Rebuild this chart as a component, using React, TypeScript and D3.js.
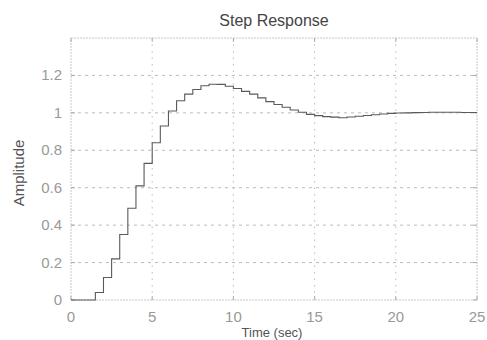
import React from "react";
import * as d3 from "d3";

const times: number[] = [
  0, 0.5, 1, 1.5, 2, 2.5, 3, 3.5, 4, 4.5, 5, 5.5, 6, 6.5, 7, 7.5, 8, 8.5, 9, 9.5,
  10, 10.5, 11, 11.5, 12, 12.5, 13, 13.5, 14, 14.5, 15, 15.5, 16, 16.5, 17, 17.5,
  18, 18.5, 19, 19.5, 20, 20.5, 21, 21.5, 22, 22.5, 23, 23.5, 24, 24.5, 25,
];
const amplitude: number[] = [
  0, 0, 0, 0.04, 0.12, 0.22, 0.35, 0.49, 0.61, 0.73, 0.84, 0.93, 1.01, 1.065, 1.1, 1.125,
  1.145, 1.153, 1.152, 1.142, 1.13, 1.115, 1.1, 1.08, 1.06, 1.045, 1.03, 1.015, 1.003,
  0.992, 0.985, 0.98, 0.977, 0.974, 0.978, 0.982, 0.986, 0.99, 0.994, 0.997, 0.999, 1.0,
  1.001, 1.002, 1.003, 1.003, 1.003, 1.003, 1.002, 1.002, 1.002,
];
const xTicks: number[] = [0, 5, 10, 15, 20, 25];
const yTicks: number[] = [0, 0.2, 0.4, 0.6, 0.8, 1, 1.2];
const title = "Step Response";
const xLabel = "Time (sec)";
const yLabel = "Amplitude";

export default function App() {
  const W = 487;
  const H = 340;
  const left = 71;
  const right = 477;
  const top = 38;
  const bottom = 300;
  const x = d3.scaleLinear().domain([0, 25]).range([left, right]);
  const y = d3.scaleLinear().domain([0, 1.4]).range([bottom, top]);
  const pts: [number, number][] = times.map((t, i) => [t, amplitude[i]]);
  const line = d3
    .line<[number, number]>()
    .x((d) => x(d[0]))
    .y((d) => y(d[1]))
    .curve(d3.curveStepAfter);
  const font = "'Liberation Sans', Arial, Helvetica, sans-serif";
  const fmt = (v: number) => (v === 0 || v === 1 ? String(v) : v.toFixed(1));
  return (
    <svg
      width={W}
      height={H}
      style={{ position: "absolute", left: 0, top: 0, background: "#fff" }}
      fontFamily={font}
    >
      <rect x={0} y={0} width={W} height={H} fill="#fff" />
      {/* grid */}
      {xTicks.slice(1, -1).map((t) => (
        <line
          key={"gx" + t}
          x1={x(t)}
          x2={x(t)}
          y1={top}
          y2={bottom}
          stroke="#bbb"
          strokeWidth={1}
          strokeDasharray="1.5,5"
        />
      ))}
      {yTicks.slice(1).map((v) => (
        <line
          key={"gy" + v}
          x1={left}
          x2={right}
          y1={y(v)}
          y2={y(v)}
          stroke="#bbb"
          strokeWidth={1}
          strokeDasharray="3,4"
        />
      ))}
      {/* box */}
      <rect
        x={left}
        y={top}
        width={right - left}
        height={bottom - top}
        fill="none"
        stroke="#c8c8c8"
        strokeWidth={1}
        strokeDasharray="2,1"
      />
      {/* ticks */}
      {xTicks.map((t) => (
        <g key={"tx" + t}>
          <line x1={x(t)} x2={x(t)} y1={bottom} y2={bottom - 4} stroke="#aaa" />
          <line x1={x(t)} x2={x(t)} y1={top} y2={top + 4} stroke="#aaa" />
          <text
            x={x(t)}
            y={322}
            textAnchor="middle"
            fontSize={15}
            fill="#999"
          >
            {t}
          </text>
        </g>
      ))}
      {yTicks.map((v) => (
        <g key={"ty" + v}>
          <line x1={left} x2={left + 4} y1={y(v)} y2={y(v)} stroke="#aaa" />
          <line x1={right} x2={right - 4} y1={y(v)} y2={y(v)} stroke="#aaa" />
          <text
            x={62}
            y={y(v) + 5}
            textAnchor="end"
            fontSize={15}
            fill="#999"
          >
            {fmt(v)}
          </text>
        </g>
      ))}
      {/* step response */}
      <path d={line(pts) ?? ""} fill="none" stroke="#5a5a5a" strokeWidth={1.1} />
      {/* labels */}
      <text x={274} y={26} textAnchor="middle" fontSize={16} fill="#444">
        {title}
      </text>
      <text
        transform={`translate(24, ${(top + bottom) / 2 + 4}) rotate(-90)`}
        textAnchor="middle"
        fontSize={15}
        fill="#555"
      >
        {yLabel}
      </text>
      <text x={272} y={337} textAnchor="middle" fontSize={13} fill="#555">
        {xLabel}
      </text>
    </svg>
  );
}
